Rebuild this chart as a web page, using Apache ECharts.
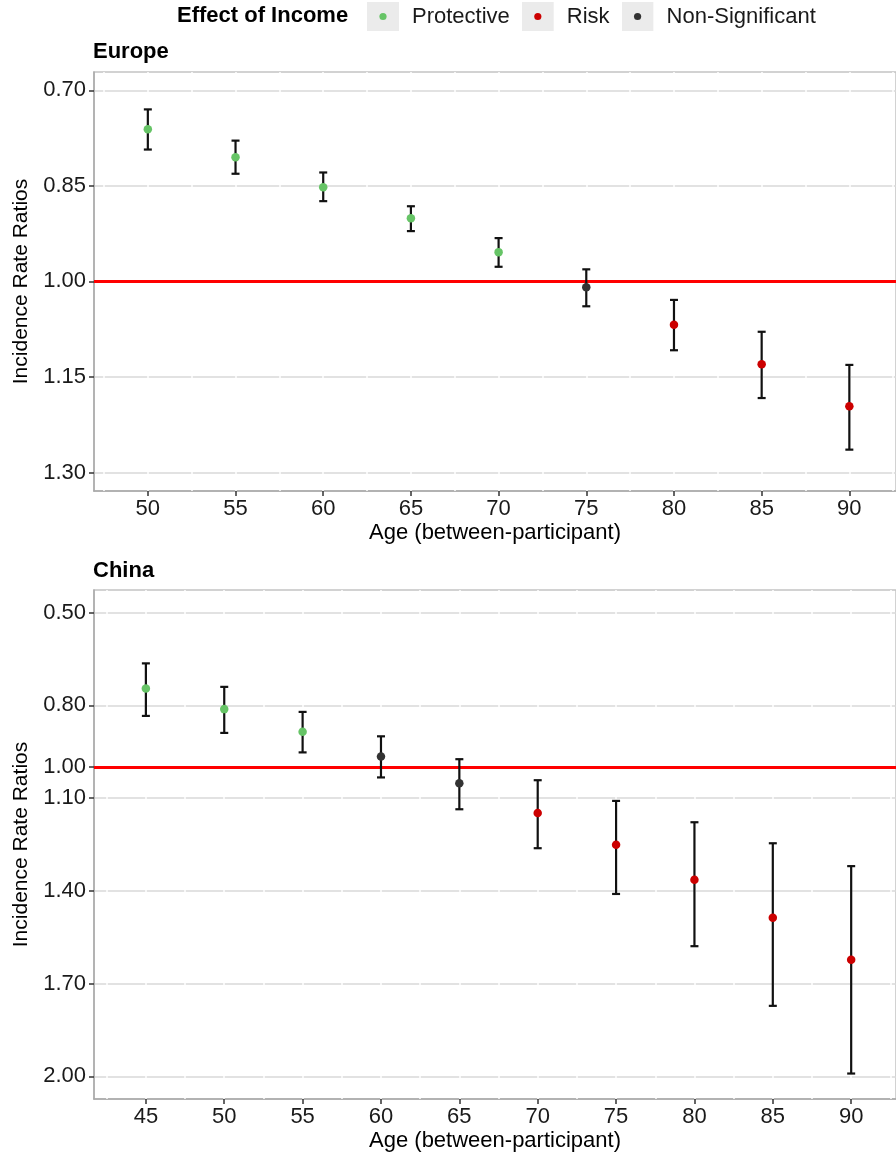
<!DOCTYPE html>
<html>
<head>
<meta charset="utf-8">
<script src="https://cdn.jsdelivr.net/npm/echarts@6/dist/echarts.min.js"></script>
<style>html,body{margin:0;padding:0;background:#fff;}#c{width:896px;height:1155px;}</style>
</head>
<body>
<div id="c"></div>
<script>
// ---- Data ----
const europeAges = [50, 55, 60, 65, 70, 75, 80, 85, 90];
const europeIRR = [0.761, 0.805, 0.852, 0.901, 0.954, 1.009, 1.068, 1.130, 1.196];
const europeLower = [0.730, 0.779, 0.829, 0.882, 0.932, 0.981, 1.029, 1.079, 1.131];
const europeUpper = [0.793, 0.831, 0.874, 0.921, 0.977, 1.039, 1.108, 1.183, 1.264];
const europeEffect = ['Protective','Protective','Protective','Protective','Protective','Non-Significant','Risk','Risk','Risk'];

const chinaAges = [45, 50, 55, 60, 65, 70, 75, 80, 85, 90];
const chinaIRR = [0.745, 0.812, 0.885, 0.965, 1.052, 1.148, 1.251, 1.364, 1.487, 1.623];
const chinaLower = [0.664, 0.740, 0.821, 0.900, 0.974, 1.042, 1.109, 1.178, 1.246, 1.320];
const chinaUpper = [0.834, 0.889, 0.952, 1.033, 1.136, 1.262, 1.410, 1.579, 1.772, 1.991];
const chinaEffect = ['Protective','Protective','Protective','Non-Significant','Non-Significant','Risk','Risk','Risk','Risk','Risk'];

const europeYTicks = [0.70, 0.85, 1.00, 1.15, 1.30];
const chinaYTicks = [0.50, 0.80, 1.00, 1.10, 1.40, 1.70, 2.00];
const europeXTicks = [50, 55, 60, 65, 70, 75, 80, 85, 90];
const chinaXTicks = [45, 50, 55, 60, 65, 70, 75, 80, 85, 90];
const europeXGrid = [47.5, 50, 52.5, 55, 57.5, 60, 62.5, 65, 67.5, 70, 72.5, 75, 77.5, 80, 82.5, 85, 87.5, 90, 92.5];
const chinaXGrid = [42.5, 45, 47.5, 50, 52.5, 55, 57.5, 60, 62.5, 65, 67.5, 70, 72.5, 75, 77.5, 80, 82.5, 85, 87.5, 90, 92.5];
const effects = ['Protective', 'Risk', 'Non-Significant'];
const effectColors = {'Protective': '#66c466', 'Risk': '#cc0000', 'Non-Significant': '#333333'};

const FONT = 'Liberation Sans, Arial, sans-serif';
const FS = 22;

function iconFor(color) {
  const svg = "<svg xmlns='http://www.w3.org/2000/svg' width='32' height='29'><rect width='32' height='29' fill='#ebebeb'/><circle cx='16' cy='14.5' r='3.6' fill='" + color + "'/></svg>";
  return 'image://data:image/svg+xml;charset=utf-8,' + encodeURIComponent(svg);
}

function errRender(params, api) {
  const x = api.value(0), lo = api.value(1), hi = api.value(2);
  const a = api.coord([x, lo]), b = api.coord([x, hi]);
  const w = 4;
  const st = {stroke: '#111111', lineWidth: 2.2};
  return {type: 'group', children: [
    {type: 'line', shape: {x1: a[0], y1: a[1], x2: b[0], y2: b[1]}, style: st},
    {type: 'line', shape: {x1: a[0] - w, y1: a[1], x2: a[0] + w, y2: a[1]}, style: st},
    {type: 'line', shape: {x1: b[0] - w, y1: b[1], x2: b[0] + w, y2: b[1]}, style: st}
  ]};
}

function panelSeries(ages, irr, lo, hi, eff, xIdx, yIdx) {
  const out = [];
  out.push({
    type: 'custom', name: 'err', xAxisIndex: xIdx, yAxisIndex: yIdx, z: 3,
    renderItem: errRender, silent: true,
    encode: {x: 0, y: [1, 2]},
    data: ages.map((a, i) => [a, lo[i], hi[i]]),
    markLine: {
      silent: true, symbol: 'none', z: 2, label: {show: false},
      lineStyle: {color: '#ff0000', width: 3, type: 'solid'},
      data: [{yAxis: 1}]
    }
  });
  effects.forEach(e => {
    out.push({
      type: 'scatter', name: e, xAxisIndex: xIdx, yAxisIndex: yIdx, z: 4,
      symbol: 'circle', symbolSize: 8.5, silent: true,
      itemStyle: {color: effectColors[e], opacity: 1},
      data: ages.map((a, i) => eff[i] === e ? [a, irr[i]] : null).filter(d => d)
    });
  });
  return out;
}

function mainX(grid, min, max, ticks) {
  return {
    type: 'value', gridIndex: grid, min: min, max: max, z: 0,
    name: 'Age (between-participant)', nameLocation: 'middle', nameGap: 31,
    nameTextStyle: {fontFamily: FONT, fontSize: FS, color: '#000'},
    axisLine: {show: true, lineStyle: {color: '#a8a8a8', width: 1.5}},
    axisTick: {show: true, length: 5, lineStyle: {color: '#333', width: 1.5}, customValues: ticks},
    axisLabel: {show: true, margin: 7, fontFamily: FONT, fontSize: FS, color: '#1a1a1a', customValues: ticks},
    splitLine: {show: false}
  };
}
function whiteX(grid, min, max, vals) {
  return {
    type: 'value', gridIndex: grid, min: min, max: max, z: 1, position: 'bottom',
    axisLine: {show: false}, axisLabel: {show: false},
    axisTick: {show: false, customValues: vals},
    splitLine: {show: true, lineStyle: {color: '#ffffff', width: 1.5}}
  };
}
function mainY(grid, min, max, ticks) {
  return {
    type: 'value', gridIndex: grid, min: min, max: max, inverse: true, z: 0,
    name: 'Incidence Rate Ratios', nameLocation: 'middle', nameGap: 62,
    nameTextStyle: {fontFamily: FONT, fontSize: 21, color: '#000'},
    axisLine: {show: true, lineStyle: {color: '#a8a8a8', width: 1.5}},
    axisTick: {show: true, length: 5, lineStyle: {color: '#333', width: 1.5}, customValues: ticks},
    axisLabel: {show: true, margin: 8, fontFamily: FONT, fontSize: FS, color: '#1a1a1a',
      customValues: ticks, formatter: v => Number(v).toFixed(2)},
    splitLine: {show: true, lineStyle: {color: '#d9d9d9', width: 1.5}}
  };
}

const chart = echarts.init(document.getElementById('c'), null, {renderer: 'canvas'});
chart.setOption({
  backgroundColor: '#ffffff',
  animation: false,
  title: [
    {text: 'Effect of Income', left: 177, top: 5, padding: 0, textStyle: {fontFamily: FONT, fontSize: FS, fontWeight: 'bold', color: '#000'}},
    {text: 'Europe', left: 93, top: 41, padding: 0, textStyle: {fontFamily: FONT, fontSize: FS, fontWeight: 'bold', color: '#000'}},
    {text: 'China', left: 93, top: 560, padding: 0, textStyle: {fontFamily: FONT, fontSize: FS, fontWeight: 'bold', color: '#000'}}
  ],
  legend: {
    left: 367, top: 2, padding: 0, itemWidth: 32, itemHeight: 29, itemGap: 12, selectedMode: false,
    textStyle: {fontFamily: FONT, fontSize: FS, color: '#1a1a1a', padding: [0, 0, 0, 8]},
    data: effects.map(e => ({name: e, icon: iconFor(effectColors[e])}))
  },
  grid: [
    {left: 94, top: 72, right: -2, height: 419, show: true, borderColor: '#c4c4c4', borderWidth: 1.5, backgroundColor: 'transparent'},
    {left: 94, top: 590, right: -2, height: 509, show: true, borderColor: '#c4c4c4', borderWidth: 1.5, backgroundColor: 'transparent'}
  ],
  xAxis: [
    mainX(0, 46.93, 92.66, europeXTicks),
    whiteX(0, 46.93, 92.66, europeXGrid),
    mainX(1, 41.69, 92.86, chinaXTicks),
    whiteX(1, 41.69, 92.86, chinaXGrid)
  ],
  yAxis: [
    mainY(0, 0.6713, 1.3289, europeYTicks),
    mainY(1, 0.4266, 2.0734, chinaYTicks)
  ],
  series: [].concat(
    panelSeries(europeAges, europeIRR, europeLower, europeUpper, europeEffect, 0, 0),
    panelSeries(chinaAges, chinaIRR, chinaLower, chinaUpper, chinaEffect, 2, 1)
  )
});
</script>
</body>
</html>
